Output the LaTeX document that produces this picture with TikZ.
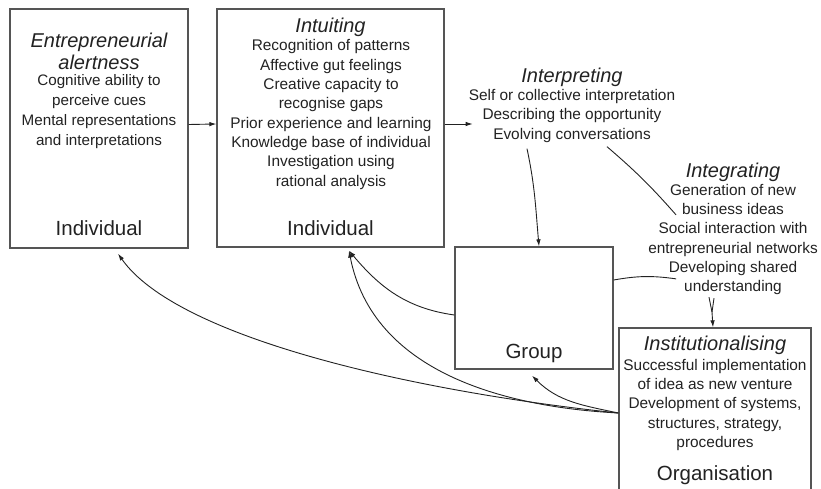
\documentclass[tikz,border=0pt]{standalone}
\usepackage{fontspec}
\setmainfont{Liberation Sans}
\usetikzlibrary{arrows.meta,calc}
\definecolor{ink}{HTML}{222222}
\definecolor{edge}{HTML}{555555}
\begin{document}
\begin{tikzpicture}[x=1pt,y=1pt,
  frame/.style={draw=edge, line width=1.3pt, fill=white, inner sep=0pt},
  ttl/.style={font=\fontsize{20}{22}\selectfont\itshape, text=ink, align=center, inner sep=0pt},
  body/.style={font=\fontsize{15.4}{19.3}\selectfont, text=ink, align=center, inner sep=0pt},
  lbl/.style={font=\fontsize{20.5}{24}\selectfont, text=ink, inner sep=0pt},
  link/.style={draw=ink, line width=0.9pt},
  tip/.style={-{Latex[length=7pt,width=4.5pt]}}
]
\useasboundingbox (0,0) rectangle (821,-489);
\clip (0,0) rectangle (821,-489);

% frames
\node[frame, minimum width=178pt, minimum height=239pt] (alert) at (99,-128.5) {};
\node[frame, minimum width=227pt, minimum height=238pt] (intu) at (330.5,-128) {};
\node[frame, minimum width=158pt, minimum height=122pt] (group) at (534,-308) {};
\node[frame, minimum width=192pt, minimum height=180pt] (inst) at (715,-418) {};

% entrepreneurial alertness
\node[ttl] (alertT) at (99,-51) {Entrepreneurial\\alertness};
\node[body, font=\fontsize{15.2}{20}\selectfont] (alertB) at (99,-112)
  {Cognitive ability to\\perceive cues\\Mental representations\\and interpretations};
\node[lbl] (alertL) at (99,-228) {Individual};

% intuiting
\node[ttl] (intuT) at (330.5,-27) {Intuiting};
\node[body] (intuB) at (331,-114.5)
  {Recognition of patterns\\Affective gut feelings\\Creative capacity to\\recognise gaps\\Prior experience and learning\\Knowledge base of individual\\Investigation using\\rational analysis};
\node[lbl] (intuL) at (330.5,-228) {Individual};

% interpreting
\node[ttl] (interpT) at (572,-77) {Interpreting};
\node[body] (interp) at (572,-116)
  {Self or collective interpretation\\Describing the opportunity\\Evolving conversations};

% integrating
\node[ttl] (integT) at (733,-172) {Integrating};
\node[body] (integ) at (733,-239.5)
  {Generation of new\\business ideas\\Social interaction with\\entrepreneurial networks\\Developing shared\\understanding};

% group
\node[lbl] (groupL) at (534,-353) {Group};

% institutionalising
\node[ttl] (instT) at (715,-345) {Institutionalising};
\node[body] (instB) at (715,-405)
  {Successful implementation\\of idea as new venture\\Development of systems,\\structures, strategy,\\procedures};
\node[lbl] (instL) at (715,-475) {Organisation};

% forward flow
\draw[link,tip] ([yshift=4pt]alert.east) -- ([yshift=4pt]intu.west);
\draw[link,tip] ([yshift=4pt]intu.east) -- ($(intu.east -| interp.west)+(4,4)$);
\draw[link,tip] ([xshift=-45pt,yshift=-6pt]interp.south) to[out=-78,in=95] ([xshift=5pt]group.north);
\draw[link] ([xshift=35pt,yshift=-4pt]interp.south) to[bend left=4] ($(integ.north west)+(28,-31)$);
\draw[link] ([yshift=28pt]group.east) to[out=10,in=172] ($(integ.north west)+(28,-95)$);

% integrating into institutionalising
\coordinate (merge) at ($(integ.south)+(-21,-17)$);
\draw[link] ($(integ.south)+(-24,-2)$) -- (merge);
\draw[link] ($(integ.south)+(-19,-3)$) -- (merge);
\draw[link,tip] (merge) -- ([xshift=-2pt]inst.north);

% feedback loops
\draw[link,tip] ([yshift=5pt]inst.west) to[out=168,in=-45] ([xshift=-2pt,yshift=-6pt]group.south);
\draw[link,tip] ([yshift=5pt]inst.west) to[out=177,in=-79,out distance=114pt,in distance=124pt] ([xshift=18.5pt,yshift=-3pt]intu.south);
\draw[link,tip] ([yshift=-7pt]group.west) to[out=172,in=-50] ([xshift=18.5pt,yshift=-3pt]intu.south);
\draw[link,tip] ([yshift=5pt]inst.west) to[out=174,in=-55,out distance=206pt,in distance=103pt] ([xshift=19pt,yshift=-5pt]alert.south);
\end{tikzpicture}
\end{document}
